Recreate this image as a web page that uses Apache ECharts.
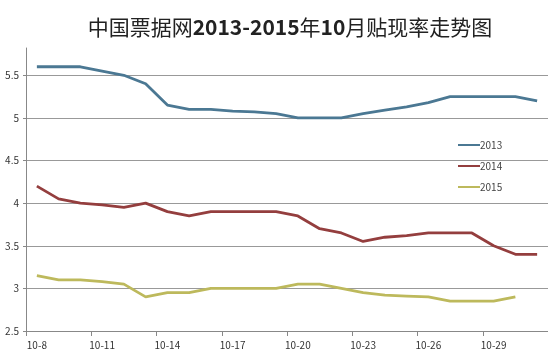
<!DOCTYPE html>
<html>
<head>
<meta charset="utf-8">
<script src="https://cdn.jsdelivr.net/npm/echarts@6/dist/echarts.min.js"></script>
<style>
html,body{margin:0;padding:0;background:#fff;}
#c{width:548px;height:357px;}
</style>
</head>
<body>
<div id="c"></div>
<script>
const categories = ['10-8','10-9','10-10','10-11','10-12','10-13','10-14','10-15','10-16','10-17','10-18','10-19','10-20','10-21','10-22','10-23','10-24','10-25','10-26','10-27','10-28','10-29','10-30','10-31'];
const s2013 = [5.6,5.6,5.6,5.55,5.5,5.4,5.15,5.1,5.1,5.08,5.07,5.05,5.0,5.0,5.0,5.05,5.09,5.13,5.18,5.25,5.25,5.25,5.25,5.2];
const s2014 = [4.2,4.05,4.0,3.98,3.95,4.0,3.9,3.85,3.9,3.9,3.9,3.9,3.85,3.7,3.65,3.55,3.6,3.62,3.65,3.65,3.65,3.5,3.4,3.4];
const s2015 = [3.15,3.1,3.1,3.08,3.05,2.9,2.95,2.95,3.0,3.0,3.0,3.0,3.05,3.05,3.0,2.95,2.92,2.91,2.9,2.85,2.85,2.85,2.9];
const seriesNames = ['2013','2014','2015'];
const colors = ['#4b7893','#943e3e','#bdb95c'];

const chart = echarts.init(document.getElementById('c'), null, {renderer:'canvas'});
const mk = (name, data, color) => ({
  name, type:'line', data, symbol:'none', smooth:false,
  lineStyle:{width:2.8, color}, itemStyle:{color}
});
chart.setOption({
  animation:false,
  backgroundColor:'#ffffff',
  textStyle:{fontFamily:'"Noto Sans CJK SC", "Noto Sans", sans-serif'},
  title:{
    text:'{n|中国票据网}{b|2013-2015}{n|年}{b|10}{n|月贴现率走势图}',
    left:285, top:12, textAlign:'center',
    textStyle:{
      rich:{
        n:{fontSize:21, fontWeight:'normal', color:'#222', fontFamily:'"Noto Sans CJK SC", sans-serif'},
        b:{fontSize:21, fontWeight:'bold', color:'#222', fontFamily:'"Noto Sans CJK SC", sans-serif'}
      }
    }
  },
  legend:{
    orient:'vertical', left:453, top:133, itemGap:7,
    itemWidth:22, itemHeight:14,
    icon:'path://M0,6 L22,6 L22,8 L0,8 Z',
    data:seriesNames,
    textStyle:{fontSize:10, color:'#444', padding:[0,0,0,-5], lineHeight:14, height:14}
  },
  grid:{left:26, right:0, top:48, bottom:26, containLabel:false},
  xAxis:{
    type:'category', data:categories, boundaryGap:true,
    axisLine:{lineStyle:{color:'#888', width:1}},
    axisTick:{show:true, interval:2, length:5, lineStyle:{color:'#888'}},
    axisLabel:{interval:2, fontSize:10, color:'#333', margin:9}
  },
  yAxis:{
    type:'value', min:2.5, max:5.82, interval:0.5,
    axisLine:{show:true, lineStyle:{color:'#888', width:1}},
    axisTick:{show:true, length:3, lineStyle:{color:'#888'}},
    axisLabel:{fontSize:10, color:'#333', margin:7, showMaxLabel:false},
    splitLine:{show:true, showMaxLine:false, lineStyle:{color:'#999', width:1}}
  },
  series:[
    mk(seriesNames[0], s2013, colors[0]),
    mk(seriesNames[1], s2014, colors[1]),
    mk(seriesNames[2], s2015, colors[2])
  ]
});
</script>
</body>
</html>
